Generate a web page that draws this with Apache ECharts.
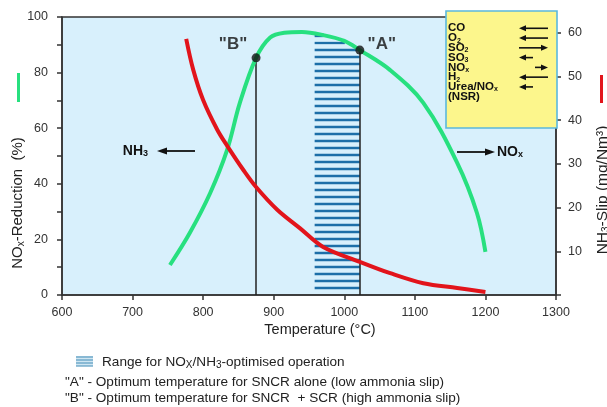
<!DOCTYPE html>
<html><head><meta charset="utf-8">
<script src="https://cdn.jsdelivr.net/npm/echarts@6/dist/echarts.min.js"></script>
<style>html,body{margin:0;padding:0;background:#fff}#c{width:607px;height:407px}</style>
</head><body><div id="c"></div>
<script>
// ---- data ----
const tempGreen    = [753, 781, 810, 834, 852, 875, 895, 915, 940, 970, 1000, 1022, 1065, 1112, 1160, 1188, 1200];
const noxReduction = [10.8, 22.3, 36.7, 52.2, 69.1, 85.3, 92.6, 94.3, 94.6, 93.5, 91.4, 88.1, 80.9, 69.1, 47.5, 29.5, 15.5];
const tempRed      = [776, 786, 800, 820, 835, 857, 875, 905, 937, 970, 1022, 1065, 1112, 1160, 1200];
const nh3Slip      = [58.6, 51.5, 44.6, 37.8, 33.9, 28.6, 24.7, 19.5, 15.3, 11.0, 7.6, 5.0, 2.7, 1.6, 0.7];
const pointB = [875, 85.3];
const pointA = [1022, 88.1];
const optimisedRange = [958, 1022];
const rightTickValues  = [0, 10, 20, 30, 40, 50, 60];
const rightLabelValues = [10, 20, 30, 40, 50, 60];
const legendNames = ['CO', 'O{s|2}', 'SO{s|2}', 'SO{s|3}', 'NO{s|x}', 'H{s|2}', 'Urea/NO{s|x}', '(NSR)'];
const legendArrowDir  = [-1, -1, 1, -1, 1, -1, -1, 0];
const legendArrowLong = [true, true, true, false, false, true, false, false];

const FONT = '"Liberation Sans", Arial, sans-serif';
const chart = echarts.init(document.getElementById('c'), null, {renderer: 'canvas'});

function hArrow(xTail, xHead, y, lw, headLen, headW) {
  const dir = xHead > xTail ? 1 : -1;
  return [
    {type: 'line', silent: true, z: 100, shape: {x1: xTail, y1: y, x2: xHead - dir * headLen * 0.7, y2: y},
      style: {stroke: '#111', lineWidth: lw}},
    {type: 'polygon', silent: true, z: 100, shape: {points: [[xHead, y], [xHead - dir * headLen, y - headW], [xHead - dir * headLen, y + headW]]},
      style: {fill: '#111'}}
  ];
}
const subRich = {s: {fontSize: 7, fontWeight: 'bold', padding: [5, 0, 0, 0], fontFamily: FONT}};

const graphics = [];
// legend box
graphics.push({type: 'rect', z: 90, shape: {x: 446, y: 11, width: 111, height: 117},
  style: {fill: '#fcf68c', stroke: '#5bb8dc', lineWidth: 1.6}});
legendNames.forEach((n, i) => {
  const y = 28.3 + i * 9.77;
  graphics.push({type: 'text', z: 100, x: 448, y: y,
    style: {text: n, font: 'bold 11.5px ' + FONT, fill: '#111', verticalAlign: 'middle', align: 'left', rich: subRich}});
  const d = legendArrowDir[i];
  if (d !== 0) {
    let tail, head;
    if (d < 0) { head = 519; tail = legendArrowLong[i] ? 548 : 533; }
    else { head = 548; tail = legendArrowLong[i] ? 519 : 535; }
    graphics.push(...hArrow(tail, head, y, 1.6, 7, 3));
  }
});
// NH3 <-  and  -> NOx
graphics.push({type: 'text', z: 100, x: 148, y: 151,
  style: {text: 'NH{s|3}', font: 'bold 14px ' + FONT, fill: '#111', align: 'right', verticalAlign: 'middle',
    rich: {s: {fontSize: 9, fontWeight: 'bold', padding: [6, 0, 0, 0], fontFamily: FONT}}}});
graphics.push(...hArrow(195, 157, 151, 1.8, 10, 3.5));
graphics.push(...hArrow(457, 495, 152, 1.8, 10, 3.5));
graphics.push({type: 'text', z: 100, x: 497, y: 152,
  style: {text: 'NO{s|x}', font: 'bold 14px ' + FONT, fill: '#111', align: 'left', verticalAlign: 'middle',
    rich: {s: {fontSize: 9, fontWeight: 'bold', padding: [6, 0, 0, 0], fontFamily: FONT}}}});
// axis names
graphics.push({type: 'rect', shape: {x: 17, y: 73, width: 3, height: 29}, style: {fill: '#27e07f'}});
graphics.push({type: 'text', x: 18, y: 203, rotation: Math.PI / 2,
  style: {text: 'NO{s|x}-Reduction  (%)', font: '15px ' + FONT, fill: '#222', align: 'center', verticalAlign: 'middle',
    rich: {s: {fontSize: 10, padding: [6, 0, 0, 0], fontFamily: FONT}}}});
graphics.push({type: 'rect', shape: {x: 600, y: 75, width: 3, height: 28}, style: {fill: '#e2141b'}});
graphics.push({type: 'text', x: 603, y: 190, rotation: Math.PI / 2,
  style: {text: 'NH{s|3}-Slip (mg/Nm³)', font: '15.5px ' + FONT, fill: '#222', align: 'center', verticalAlign: 'middle',
    rich: {s: {fontSize: 10, padding: [6, 0, 0, 0], fontFamily: FONT}}}});
graphics.push({type: 'text', x: 320, y: 330,
  style: {text: 'Temperature (°C)', font: '14.5px ' + FONT, fill: '#222', align: 'center', verticalAlign: 'middle'}});
// bottom legend
graphics.push({type: 'rect', shape: {x: 76, y: 356, width: 17, height: 10}, style: {fill: '#cfe6f2'}});
[357, 360, 363, 366].forEach(y => graphics.push({type: 'line', shape: {x1: 76, y1: y, x2: 93, y2: y}, style: {stroke: '#5a9cc0', lineWidth: 1.2}}));
graphics.push({type: 'text', x: 102, y: 362,
  style: {text: 'Range for NO{s|X}/NH{s|3}-optimised operation', font: '13.6px ' + FONT, fill: '#222', verticalAlign: 'middle',
    rich: {s: {fontSize: 10, padding: [6, 0, 0, 0], fontFamily: FONT}}}});
graphics.push({type: 'text', x: 65, y: 382,
  style: {text: '"A" - Optimum temperature for SNCR alone (low ammonia slip)', font: '13.6px ' + FONT, fill: '#222', verticalAlign: 'middle'}});
graphics.push({type: 'text', x: 65, y: 398,
  style: {text: '"B" - Optimum temperature for SNCR  + SCR (high ammonia slip)', font: '13.6px ' + FONT, fill: '#222', verticalAlign: 'middle'}});

const axisLineStyle = {color: '#333', width: 1.5};
const option = {
  animation: false,
  backgroundColor: '#fff',
  grid: {left: 62, right: 51, top: 17, bottom: 112, show: true, backgroundColor: '#d8f0fc', borderColor: '#333', borderWidth: 1.5},
  xAxis: {type: 'value', min: 600, max: 1300, interval: 100,
    axisLine: {show: true, lineStyle: axisLineStyle},
    axisTick: {show: true, inside: false, length: 5, lineStyle: axisLineStyle},
    axisLabel: {color: '#333', fontSize: 12.5, fontFamily: FONT, margin: 11, formatter: v => String(v)},
    splitLine: {show: false}},
  yAxis: [
    {type: 'value', min: 0, max: 100, interval: 10, position: 'left',
      axisLine: {show: true, lineStyle: axisLineStyle},
      axisTick: {show: true, length: 5, lineStyle: axisLineStyle},
      axisLabel: {color: '#333', fontSize: 12.5, fontFamily: FONT, margin: 14,
        formatter: v => (v % 20 === 0 ? String(v) : '')},
      splitLine: {show: false}},
    {type: 'value', min: 0, max: 63.6, position: 'right',
      axisLine: {show: true, lineStyle: axisLineStyle},
      axisTick: {show: true, length: 5, lineStyle: axisLineStyle, customValues: rightTickValues},
      axisLabel: {color: '#333', fontSize: 12.5, fontFamily: FONT, margin: 12, customValues: rightLabelValues},
      splitLine: {show: false}}
  ],
  graphic: graphics,
  series: [
    {type: 'custom', name: 'range', yAxisIndex: 0, z: 2, silent: true,
      data: [optimisedRange],
      renderItem: function (params, api) {
        const x1 = api.coord([api.value(0), 0])[0];
        const x2 = api.coord([api.value(1), 0])[0];
        const yb = api.coord([600, 0])[1];
        const pts = tempGreen.map((t, i) => api.coord([t, noxReduction[i]]));
        const children = [];
        for (let py = yb - 7; py > 17; py -= 7) {
          let asc = -Infinity, desc = Infinity, anyAbove = false;
          for (let i = 0; i < pts.length - 1; i++) {
            const a = pts[i], b = pts[i + 1];
            if (a[1] < py || b[1] < py) anyAbove = true;
            if ((a[1] - py) * (b[1] - py) < 0) {
              const xc = a[0] + (py - a[1]) / (b[1] - a[1]) * (b[0] - a[0]);
              if (b[1] < a[1]) asc = xc; else desc = xc;
            }
          }
          if (!anyAbove) continue;
          const xl = Math.max(x1, asc + 3), xr = Math.min(x2, desc - 3);
          if (xr > xl) children.push({type: 'line', shape: {x1: xl, y1: py, x2: xr, y2: py},
            style: {stroke: '#1d6fa8', lineWidth: 2.3}});
        }
        return {type: 'group', children: children};
      }},
    {type: 'line', name: 'NOx', yAxisIndex: 0, z: 5, smooth: 0.35, symbol: 'none',
      lineStyle: {color: '#27e07f', width: 4},
      data: tempGreen.map((t, i) => [t, noxReduction[i]])},
    {type: 'line', name: 'NH3', yAxisIndex: 1, z: 5, smooth: 0.35, symbol: 'none',
      lineStyle: {color: '#e2141b', width: 4},
      data: tempRed.map((t, i) => [t, nh3Slip[i]])},
    {type: 'scatter', name: 'points', yAxisIndex: 0, z: 8, symbolSize: 9,
      itemStyle: {color: '#111'},
      data: [
        {value: pointB, label: {show: true, formatter: '"B"', position: 'inside', offset: [-23, -14]}},
        {value: pointA, label: {show: true, formatter: '"A"', position: 'inside', offset: [22, -6]}}
      ],
      label: {color: '#111', fontSize: 17, fontWeight: 'bold', fontFamily: FONT},
      markLine: {silent: true, symbol: 'none', label: {show: false},
        lineStyle: {color: '#222', width: 1.5, type: 'solid'},
        data: [
          [{coord: [pointB[0], 0]}, {coord: pointB}],
          [{coord: [pointA[0], 0]}, {coord: pointA}]
        ]}}
  ]
};
chart.setOption(option);
</script></body></html>
